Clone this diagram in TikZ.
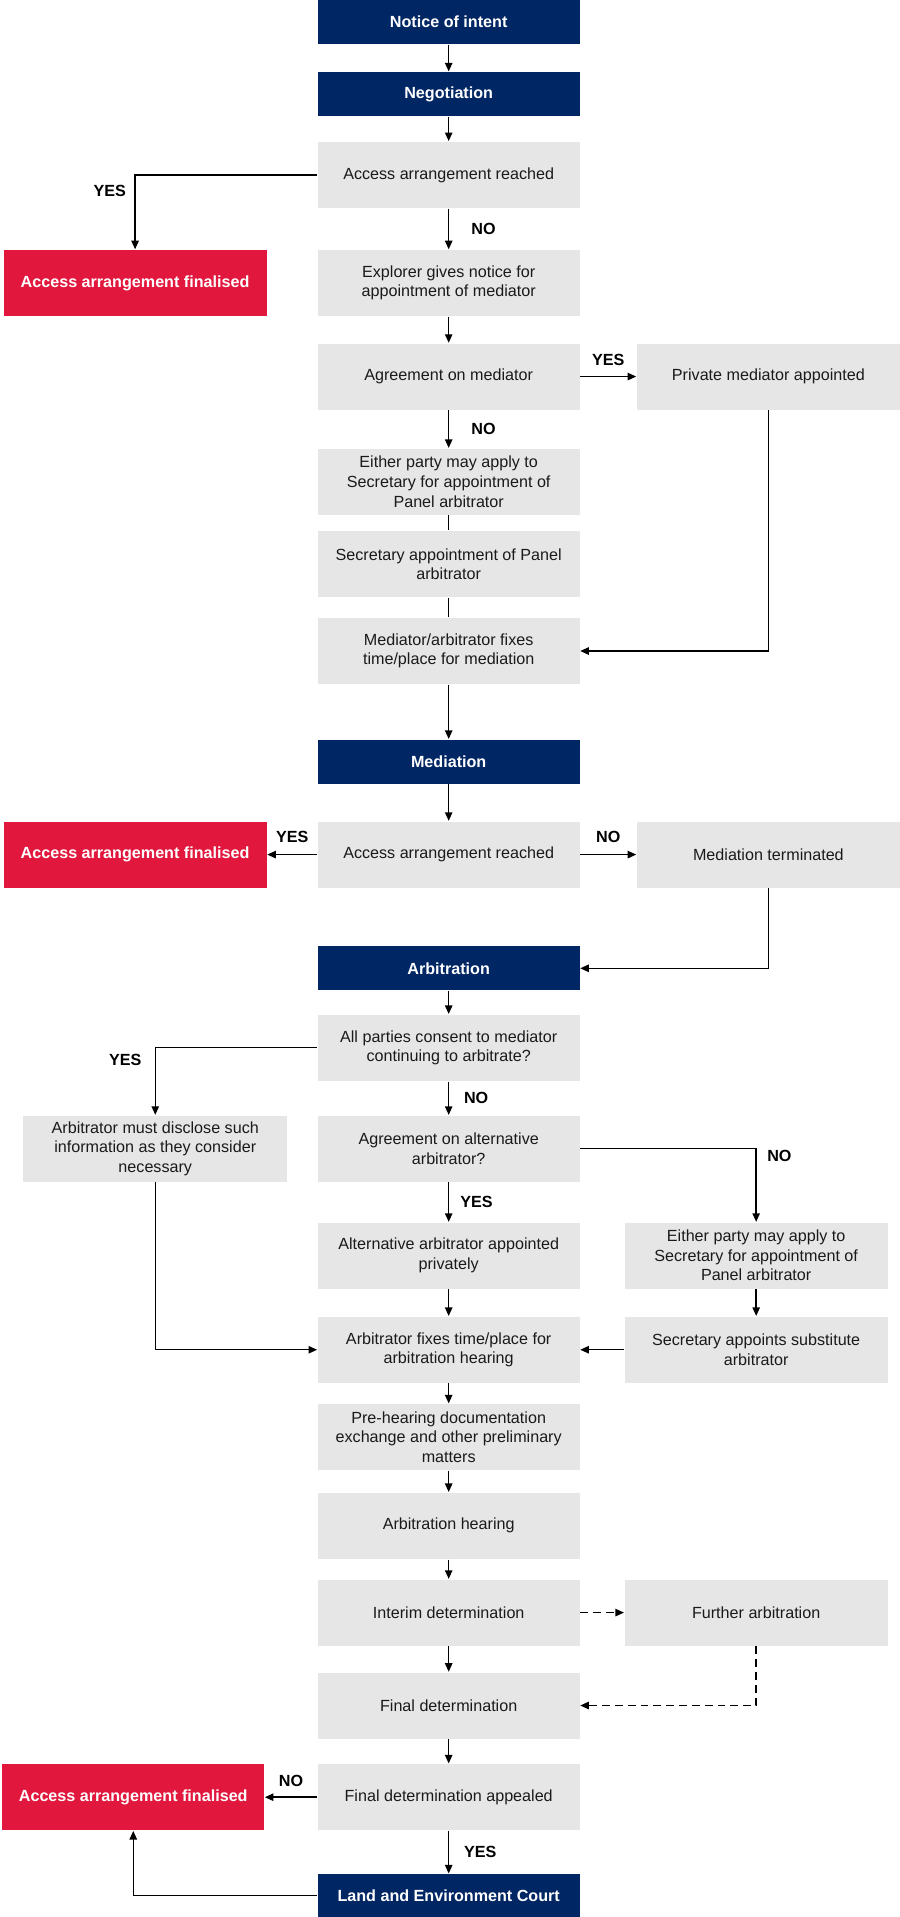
\documentclass[tikz,border=0pt]{standalone}
\usepackage{fontspec}
\setmainfont{Liberation Sans}
\usetikzlibrary{arrows.meta,positioning}
\definecolor{navy}{HTML}{002664}
\definecolor{nswred}{HTML}{E2173D}
\definecolor{boxgray}{HTML}{E6E6E6}
\definecolor{ink}{HTML}{1A1A1A}

\begin{document}
\begin{tikzpicture}[node distance=60pt, >={Triangle[length=7pt,width=6pt]}, line width=1.2pt]
        % Styles
        \tikzstyle{phase} = [fill=navy, text=white, font=\bfseries\fontsize{13.2}{16}\selectfont, minimum width=214pt, minimum height=36pt, inner sep=0pt, align=center]
        \tikzstyle{block} = [fill=boxgray, text=ink, font=\fontsize{13.2}{16}\selectfont, minimum width=214pt, minimum height=54pt, inner sep=0pt, align=center]
        \tikzstyle{endbox} = [fill=nswred, text=white, font=\bfseries\fontsize{13.2}{16}\selectfont, minimum width=215pt, minimum height=54pt, inner sep=0pt, align=center]
        \tikzstyle{lbl} = [font=\bfseries\fontsize{13.2}{16}\selectfont, inner sep=0pt]
        \tikzstyle{opt} = [dash pattern=on 6.5pt off 4pt]

        \useasboundingbox (0,0) rectangle (736pt,-1568pt);

        % --- Negotiation ---
        \node [phase] (notice) at (367pt,-18pt) {Notice of intent};
        \node [phase, below of=notice, node distance=59pt] (negotiation) {Negotiation};
        \node [block, below of=negotiation, node distance=66pt] (reached1) {Access arrangement reached};
        \node [endbox, below of=reached1, node distance=88.5pt, xshift=-256.5pt] (final1) {Access arrangement finalised};
        \node [block, below of=reached1, node distance=88.5pt] (notice_med) {Explorer gives notice for\\appointment of mediator};

        % Mediator appointment
        \node [block, below of=notice_med, node distance=76.5pt] (agree_med) {Agreement on mediator};
        \node [block, right of=agree_med, node distance=261.5pt, minimum width=215pt] (private_med) {Private mediator appointed};
        \node [block, below of=agree_med, node distance=86pt] (apply1) {Either party may apply to\\Secretary for appointment of\\Panel arbitrator};
        \node [block, below of=apply1, node distance=67.5pt] (panel_app) {Secretary appointment of Panel\\arbitrator};
        \node [block, below of=panel_app, node distance=71pt] (fix_med) {Mediator/arbitrator fixes\\time/place for mediation};

        % --- Mediation ---
        \node [phase, below of=fix_med, node distance=90.5pt] (mediation) {Mediation};
        \node [block, below of=mediation, node distance=76pt] (reached2) {Access arrangement reached};
        \node [endbox, left of=reached2, node distance=256.5pt] (final2) {Access arrangement finalised};
        \node [block, right of=reached2, node distance=261.5pt, minimum width=215pt] (terminated) {Mediation terminated};

        % --- Arbitration ---
        \node [phase, below of=reached2, node distance=93pt] (arbitration) {Arbitration};
        \node [block, below of=arbitration, node distance=65pt] (consent) {All parties consent to mediator\\continuing to arbitrate?};
        \node [block, below of=consent, node distance=82.5pt] (agree_alt) {Agreement on alternative\\arbitrator?};
        \node [block, left of=agree_alt, node distance=240pt, minimum width=216pt] (disclose) {Arbitrator must disclose such\\information as they consider\\necessary};
        \node [block, below of=agree_alt, node distance=87.5pt] (alt_private) {Alternative arbitrator appointed\\privately};
        \node [block, right of=alt_private, node distance=251.5pt, minimum width=215pt] (apply2) {Either party may apply to\\Secretary for appointment of\\Panel arbitrator};
        \node [block, below of=alt_private, node distance=77pt] (fix_arb) {Arbitrator fixes time/place for\\arbitration hearing};
        \node [block, right of=fix_arb, node distance=251.5pt, minimum width=215pt] (substitute) {Secretary appoints substitute\\arbitrator};
        \node [block, below of=fix_arb, node distance=71.5pt] (prehearing) {Pre-hearing documentation\\exchange and other preliminary\\matters};
        \node [block, below of=prehearing, node distance=72.5pt] (hearing) {Arbitration hearing};
        \node [block, below of=hearing, node distance=71pt] (interim) {Interim determination};
        \node [block, right of=interim, node distance=251.5pt, minimum width=215pt] (further) {Further arbitration};
        \node [block, below of=interim, node distance=76pt] (final_det) {Final determination};
        \node [block, below of=final_det, node distance=75pt] (appealed) {Final determination appealed};
        \node [endbox, left of=appealed, node distance=258pt, minimum width=214pt] (final3) {Access arrangement finalised};
        \node [phase, below of=appealed, node distance=80.5pt, minimum height=35pt] (court) {Land and Environment Court};

        % --- Connections ---
        \draw [->] (notice) -- (negotiation);
        \draw [->] (negotiation) -- (reached1);

        % Agreement reached -> finalised
        \draw [->] (reached1) -| node[lbl, pos=0.605, left=7pt] {YES} (final1);
        \draw [->] (reached1) -- node[lbl, right=18pt] {NO} (notice_med);
        \draw [->] (notice_med) -- (agree_med);

        % Mediator
        \draw [->] (agree_med) -- node[lbl, above=8.5pt] {YES} (private_med);
        \draw [->] (agree_med) -- node[lbl, right=18pt] {NO} (apply1);
        \draw (apply1) -- (panel_app);
        \draw (panel_app) -- (fix_med);
        \draw [->] (private_med) |- (fix_med);
        \draw [->] (fix_med) -- (mediation);

        % Mediation outcome
        \draw [->] (mediation) -- (reached2);
        \draw [->] (reached2) -- node[lbl, above=9pt] {YES} (final2);
        \draw [->] (reached2) -- node[lbl, above=9pt] {NO} (terminated);
        \draw [->] (terminated) |- (arbitration);

        % Arbitrator choice
        \draw [->] (arbitration) -- (consent);
        \draw [->] (consent) -| node[lbl, pos=0.59, left=10.8pt] {YES} (disclose);
        \draw [->] (consent) -- node[lbl, right=12pt] {NO} (agree_alt);
        \draw [->] (agree_alt) -| node[lbl, pos=0.55, right=8.5pt] {NO} (apply2);
        \draw [->] (agree_alt) -- node[lbl, right=9pt] {YES} (alt_private);
        \draw [->] (apply2) -- (substitute);
        \draw [->] (alt_private) -- (fix_arb);
        \draw [->] (substitute) -- (fix_arb);
        \draw [->] (disclose) |- (fix_arb);

        % Hearing
        \draw [->] (fix_arb) -- (prehearing);
        \draw [->] (prehearing) -- (hearing);
        \draw [->] (hearing) -- (interim);
        \draw [->, opt] (interim) -- (further);
        \draw [->, opt] (further) |- (final_det);
        \draw [->] (interim) -- (final_det);
        \draw [->] (final_det) -- (appealed);

        % Appeal
        \draw [->] (appealed) -- node[lbl, above=8pt] {NO} (final3);
        \draw [->] (appealed) -- node[lbl, right=12pt] {YES} (court);
        \draw [->] (court) -| (final3);

    \end{tikzpicture}
\end{document}
